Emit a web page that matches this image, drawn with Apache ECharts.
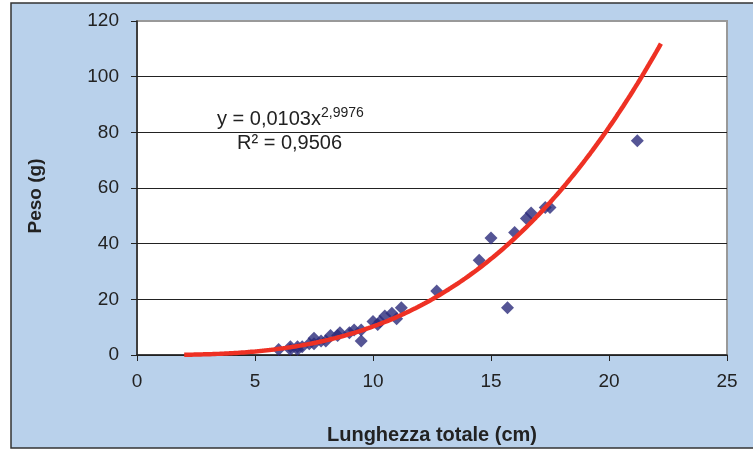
<!DOCTYPE html>
<html><head><meta charset="utf-8">
<script src="https://cdn.jsdelivr.net/npm/echarts@6/dist/echarts.min.js"></script>
<style>html,body{margin:0;padding:0;background:#fff}#c{width:753px;height:450px}</style>
</head><body><div id="c"></div>
<script>
const lengthCm = [6.0,6.5,6.5,6.8,6.8,7.0,7.3,7.5,7.5,7.8,8.0,8.2,8.5,8.6,9.0,9.2,9.5,9.5,10.0,10.2,10.3,10.5,10.8,11.0,11.2,12.7,14.5,15.0,15.7,16.0,16.5,16.7,17.3,17.5,21.2];
const weightG  = [2,3,2,2,3,3,4,6,4,5,5,7,7,8,8,9,9,5,12,11,12,14,15,13,17,23,34,42,17,44,49,51,53,53,77];
const trendA = 0.0103, trendB = 2.9976, trendFrom = 2, trendTo = 22.2;
const xTicks = [0,5,10,15,20,25];
const yTicks = [0,20,40,60,80,100,120];

const trend = [];
for (let x = trendFrom; x <= trendTo + 1e-9; x += 0.1) trend.push([+x.toFixed(2), trendA * Math.pow(x, trendB)]);
const pts = lengthCm.map((x,i)=>[x, weightG[i]]);

const chart = echarts.init(document.getElementById('c'));
chart.setOption({
  backgroundColor: '#fff',
  animation: false,
  graphic: [
    {type:'rect', z:-10, shape:{x:11, y:3, width:760, height:445}, style:{fill:'#B9D1EB', stroke:'#333', lineWidth:1.5}},
    {type:'text', left:217, top:106, z:10, style:{
      text:'{a|y = 0,0103x}{s|2,9976}', rich:{a:{fontFamily:'Liberation Sans, Arial', fontSize:20, fill:'#222', verticalAlign:'bottom'}, s:{fontFamily:'Liberation Sans, Arial', fontSize:14, fill:'#222', padding:[0,0,9,0], verticalAlign:'bottom'}}}},
    {type:'text', left:237, top:133, z:10, style:{text:'R² = 0,9506', font:'20px "Liberation Sans", Arial', fill:'#222'}},
    {type:'text', x:36, y:196, rotation:Math.PI/2, z:10, style:{text:'Peso (g)', font:'bold 19px "Liberation Sans", Arial', fill:'#222', align:'center', verticalAlign:'middle'}}
  ],
  grid: {left:137, right:26, top:21, bottom:93, show:true, backgroundColor:'#fff', borderColor:'#999', borderWidth:2},
  xAxis: {
    type:'value', min:0, max:25, interval:5,
    name:'Lunghezza totale (cm)', nameLocation:'middle', nameGap:70,
    nameTextStyle:{fontFamily:'Liberation Sans, Arial', fontWeight:'bold', fontSize:20, color:'#222'},
    axisLine:{lineStyle:{color:'#222', width:1.5}},
    axisTick:{show:true, length:6, lineStyle:{color:'#222'}},
    axisLabel:{fontFamily:'Liberation Sans, Arial', fontSize:19, color:'#222', margin:17},
    splitLine:{show:false}
  },
  yAxis: {
    type:'value', min:0, max:120, interval:20,
    axisLine:{show:true, lineStyle:{color:'#222', width:1.5}},
    axisTick:{show:true, length:6, lineStyle:{color:'#222'}},
    axisLabel:{fontFamily:'Liberation Sans, Arial', fontSize:19, color:'#222', margin:18},
    splitLine:{show:true, lineStyle:{color:['#222','#222','#222','#222','#222','#222','#999'], width:1}}
  },
  series: [
    {type:'scatter', data:pts, symbol:'diamond', symbolSize:13, itemStyle:{color:'#2B2A7B'}, z:2},
    {type:'line', data:trend, showSymbol:false, smooth:false, lineStyle:{color:'#EE3124', width:4.5}, z:3}
  ]
});
</script></body></html>
